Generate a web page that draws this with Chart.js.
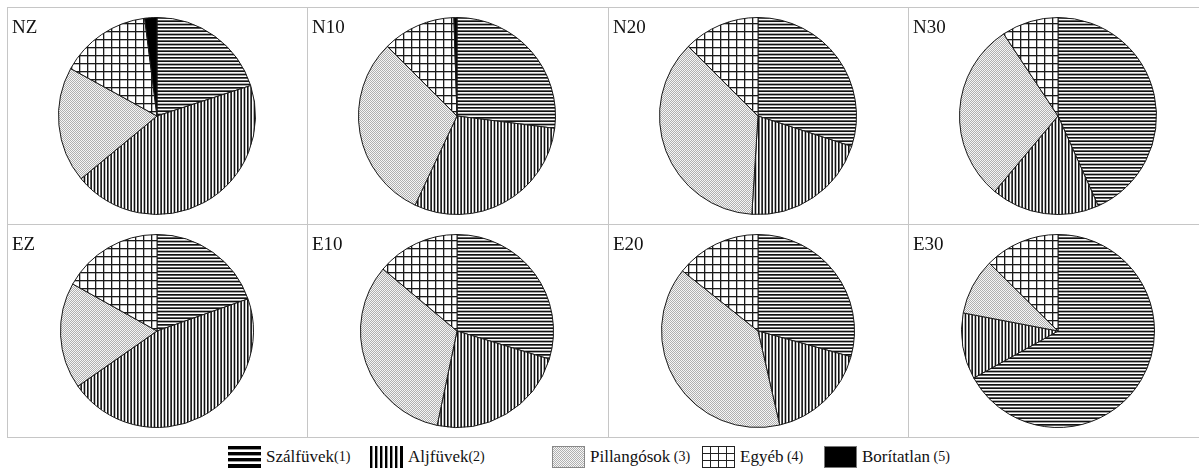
<!DOCTYPE html>
<html>
<head>
<meta charset="utf-8">
<script src="https://cdn.jsdelivr.net/npm/chart.js@4.4.0/dist/chart.umd.min.js"></script>
<style>
body { margin: 0; background: #fff; width: 1199px; height: 471px; overflow: hidden; position: relative;
       font-family: "Liberation Serif", "Times New Roman", serif; color: #111; }
.hl { position: absolute; left: 7px; right: 0; height: 1px; background: #c6c6c6; }
.vl { position: absolute; top: 7px; width: 1px; height: 431px; background: #c6c6c6; }
.panel { position: absolute; }
.panel canvas { position: absolute; left: 0; top: 0; }
.plabel { position: absolute; left: 5px; top: 10px; font-size: 19px; line-height: 19px; }
.leg { position: absolute; top: 446px; height: 22px; display: flex; align-items: center; white-space: nowrap; }
.leg canvas { display: block; margin-right: 5px; }
.leg .name { font-size: 17px; }
.leg .num { font-size: 14px; }
</style>
</head>
<body>
<div class="hl" style="top:7px"></div>
<div class="hl" style="top:224px"></div>
<div class="hl" style="top:437px"></div>
<div class="vl" style="left:7px"></div>
<div class="vl" style="left:307px"></div>
<div class="vl" style="left:608px"></div>
<div class="vl" style="left:908px"></div>
<div id="panels"></div>
<div id="legend"></div>

<script>
// szazalekos boritas, oramutato jarasa szerint felulrol
const panelLabels = ['NZ', 'N10', 'N20', 'N30', 'EZ', 'E10', 'E20', 'E30'];
const categories = ['Szálfüvek', 'Aljfüvek', 'Pillangósok', 'Egyéb', 'Borítatlan'];
const szalfuvek   = [20.0, 27.0, 30.0, 43.3, 19.6, 29.7, 29.3, 66.9];
const aljfuvek    = [44.0, 30.0, 21.0, 17.8, 45.7, 23.6, 17.1, 11.1];
const pillangosok = [19.0, 30.5, 36.5, 29.6, 17.8, 32.8, 39.3,  9.4];
const egyeb       = [15.0, 12.0, 12.5,  9.3, 16.9, 13.9, 14.3, 12.6];
const boritatlan  = [ 2.0,  0.5,  0.0,  0.0,  0.0,  0.0,  0.0,  0.0];

const colX = [7, 307, 608, 908];
const rowY = [7, 224];
const rowH = [217, 213];

function makeTile(w, h, draw) {
    var c = document.createElement('canvas');
    c.width = w; c.height = h;
    var g = c.getContext('2d');
    g.fillStyle = '#fff';
    g.fillRect(0, 0, w, h);
    draw(g);
    return c;
}

var tiles = [
    makeTile(10, 10, function (g) {   // vizszintes
        g.fillStyle = '#111';
        for (var k = 0; k < 3; k++) g.fillRect(0, k * 10 / 3, 10, 1.7);
    }),
    makeTile(10, 10, function (g) {   // fuggoleges
        g.fillStyle = '#111';
        for (var k = 0; k < 3; k++) g.fillRect(k * 10 / 3, 0, 1.6, 10);
    }),
    makeTile(2, 2, function (g) {     // pontozott
        g.fillStyle = '#f6f6f6';
        g.fillRect(0, 0, 2, 2);
        g.fillStyle = '#b0b0b0';
        g.fillRect(0, 0, 1, 1);
        g.fillRect(1, 1, 1, 1);
    }),
    makeTile(8, 8, function (g) {     // racs
        g.fillStyle = '#1a1a1a';
        g.fillRect(0, 0, 8, 1.3);
        g.fillRect(0, 0, 1.3, 8);
    })
];

function fills(ctx) {
    var list = tiles.map(function (t) { return ctx.createPattern(t, 'repeat'); });
    list.push('#000');
    return list;
}

var panelsEl = document.getElementById('panels');
panelLabels.forEach(function (label, i) {
    var col = i % 4, row = Math.floor(i / 4);
    var w = 300, h = rowH[row];
    var div = document.createElement('div');
    div.className = 'panel';
    div.style.left = colX[col] + 'px';
    div.style.top = rowY[row] + 'px';
    div.style.width = w + 'px';
    div.style.height = h + 'px';
    var cv = document.createElement('canvas');
    cv.width = w; cv.height = h;
    div.appendChild(cv);
    var lab = document.createElement('div');
    lab.className = 'plabel';
    lab.textContent = label;
    div.appendChild(lab);
    panelsEl.appendChild(div);

    var ctx = cv.getContext('2d');
    var values = [szalfuvek[i], aljfuvek[i], pillangosok[i], egyeb[i], boritatlan[i]];
    new Chart(ctx, {
        type: 'pie',
        data: {
            labels: categories,
            datasets: [{
                data: values,
                backgroundColor: fills(ctx),
                borderColor: '#1a1a1a',
                borderWidth: function (c) { return c.raw > 0 ? 1 : 0; },
                hoverOffset: 0
            }]
        },
        options: {
            responsive: false,
            animation: false,
            layout: { padding: { top: 10, bottom: 9 } },
            plugins: {
                legend: { display: false },
                tooltip: { enabled: false }
            }
        }
    });
});

// jelmagyarazat
const legendX = [228, 370, 552, 702, 824];
const legendNums = ['(1)', '(2)', '(3)', '(4)', '(5)'];

function drawSwatch(g, k) {
    var w = 33, h = 22;
    g.fillStyle = '#fff';
    g.fillRect(0, 0, w, h);
    g.fillStyle = '#000';
    if (k == 0) {
        for (var y = 0; y < h; y += 6) g.fillRect(0, y, w, 3.4);
        g.fillRect(0, h - 2, w, 2);
    } else if (k == 1) {
        for (var x = 0; x < w; x += 5) g.fillRect(x, 0, 2.4, h);
        g.fillRect(w - 2, 0, 2, h);
    } else if (k == 2) {
        g.fillStyle = g.createPattern(tiles[2], 'repeat');
        g.fillRect(0, 0, w, h);
        g.strokeStyle = '#888';
        g.strokeRect(0.5, 0.5, w - 1, h - 1);
    } else if (k == 3) {
        g.fillStyle = '#222';
        for (var x2 = 0; x2 < w; x2 += 8) g.fillRect(x2, 0, 1, h);
        for (var y2 = 0; y2 < h; y2 += 7) g.fillRect(0, y2, w, 1);
        g.fillRect(w - 1, 0, 1, h);
        g.fillRect(0, h - 1, w, 1);
    } else {
        g.fillRect(0, 0, w, h);
        g.strokeStyle = '#777';
        g.strokeRect(0.5, 0.5, w - 1, h - 1);
    }
}

var legendEl = document.getElementById('legend');
categories.forEach(function (name, k) {
    var item = document.createElement('div');
    item.className = 'leg';
    item.style.left = legendX[k] + 'px';
    var sw = document.createElement('canvas');
    sw.width = 33; sw.height = 22;
    drawSwatch(sw.getContext('2d'), k);
    item.appendChild(sw);
    var t = document.createElement('span');
    t.className = 'name';
    t.textContent = name;
    item.appendChild(t);
    var n = document.createElement('span');
    n.className = 'num';
    n.textContent = (k >= 2 ? '\u00a0' : '') + legendNums[k];
    item.appendChild(n);
    legendEl.appendChild(item);
});
</script>
</body>
</html>
